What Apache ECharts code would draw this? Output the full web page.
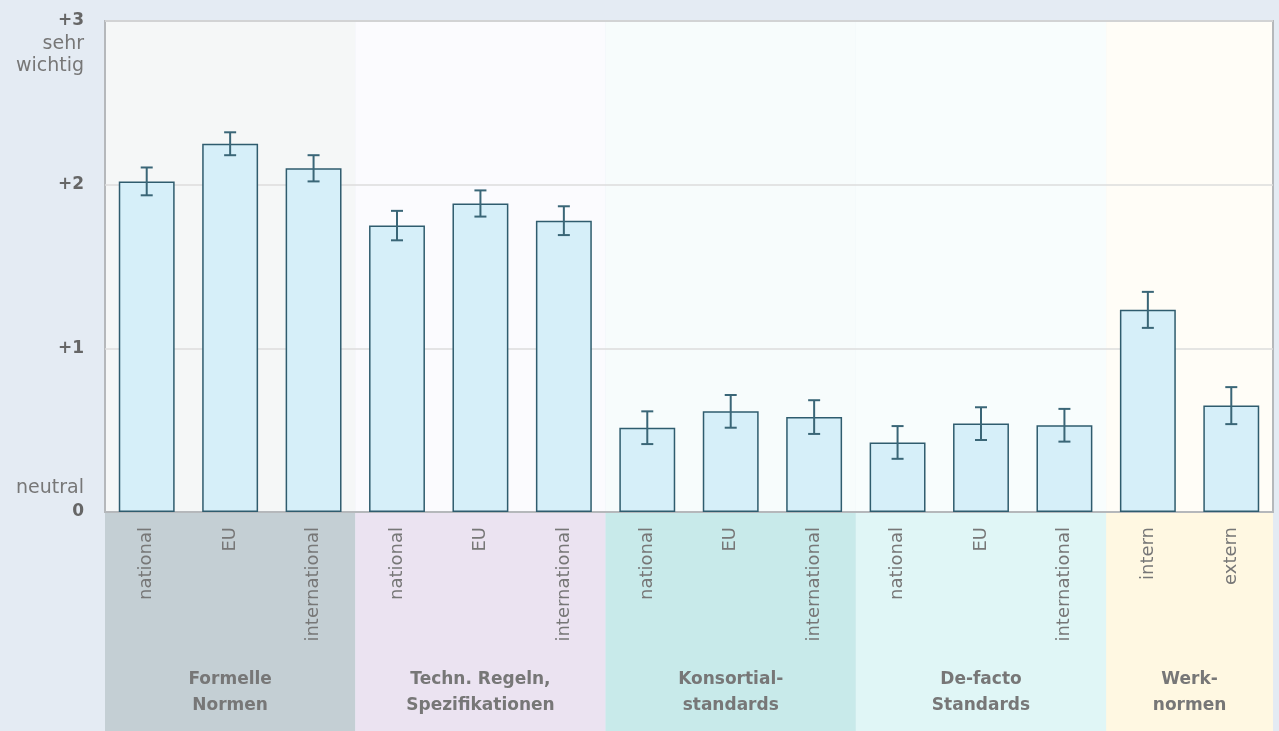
<!DOCTYPE html>
<html>
<head>
<meta charset="utf-8">
<script src="https://cdn.jsdelivr.net/npm/echarts@6/dist/echarts.min.js"></script>
<style>
  html, body { margin: 0; padding: 0; background: #e4ebf3; }
  #main { width: 1279px; height: 731px; }
</style>
</head>
<body>
<div id="main"></div>
<script>
// Kategorien (x-Achse) und Gruppen
const categories = ["national", "EU", "international", "national", "EU", "international",
  "national", "EU", "international", "national", "EU", "international", "intern", "extern"];
const groupNames = ["Formelle\nNormen", "Techn. Regeln,\nSpezifikationen", "Konsortial-\nstandards",
  "De-facto\nStandards", "Werk-\nnormen"];
const groupSizes = [3, 3, 3, 3, 2];
const groupPlotColors = ["#f5f7f7", "#fbfbfe", "#f7fcfc", "#f8fdfd", "#fffdf7"];
const groupBandColors = ["#c4cfd4", "#ebe3f1", "#c8eaea", "#e0f6f6", "#fff8e2"];

// Mittelwerte und Fehlerbalken
const means = [2.02, 2.25, 2.10, 1.75, 1.885, 1.78, 0.515, 0.615, 0.58, 0.425, 0.54, 0.53, 1.235, 0.65];
const errors = [0.085, 0.07, 0.08, 0.09, 0.08, 0.088, 0.10, 0.10, 0.103, 0.10, 0.10, 0.10, 0.11, 0.113];

// y-Achsenbeschriftung, von oben nach unten
const yTicks = {
  0: "{n|neutral}\n{b|0}\n{e| }",
  1: "{b|+1}",
  2: "{b|+2}",
  3: "{e| }\n{e| }\n{b|+3}\n{n|sehr}\n{n|wichtig}"
};

const font = "DejaVu Sans";

// Gruppen-Daten: [start, end, idx]
const groupData = [];
let start = 0;
groupSizes.forEach((n, i) => {
  groupData.push([start, start + n - 1, i]);
  start += n;
});

const errData = means.map((m, i) => [i, m - errors[i], m + errors[i]]);

const chart = echarts.init(document.getElementById("main"));
chart.setOption({
  backgroundColor: "#e4ebf3",
  animation: false,
  grid: {
    left: 105, right: 6, top: 21, bottom: 219,
    outerBoundsMode: "none",
    containLabel: false,
    show: true, borderColor: "#b5b8bb", borderWidth: 2, backgroundColor: "transparent"
  },
  xAxis: {
    type: "category",
    data: categories,
    axisLine: { lineStyle: { color: "#b5b8bb", width: 2 } },
    axisTick: { show: false },
    axisLabel: {
      interval: 0, rotate: 90, margin: 15,
      color: "#777", fontSize: 18, fontFamily: font
    }
  },
  yAxis: {
    type: "value",
    min: 0, max: 3, interval: 1,
    axisLine: { show: false },
    axisTick: { show: false },
    splitLine: { lineStyle: { color: "#dcdcdc", width: 1.5 } },
    axisLabel: {
      margin: 21,
      formatter: v => yTicks[v],
      rich: {
        b: { fontFamily: font, fontWeight: "bold", fontSize: 17, color: "#666", lineHeight: 25, align: "right" },
        n: { fontFamily: font, fontSize: 19, color: "#777", lineHeight: 22, align: "right" },
        e: { fontSize: 15, lineHeight: 22 }
      }
    }
  },
  series: [
    {
      type: "custom",
      z: -5,
      silent: true,
      data: groupData,
      renderItem: (params, api) => {
        const s = api.value(0), e = api.value(1), idx = api.value(2);
        const bw = api.size([1, 0])[0];
        const x0 = api.coord([s, 0])[0] - bw / 2;
        const x1 = api.coord([e, 0])[0] + bw / 2;
        const yTop = api.coord([s, 3])[1];
        const yZero = api.coord([s, 0])[1];
        const h = api.getHeight();
        return {
          type: "group",
          children: [
            { type: "rect", shape: { x: x0, y: yTop, width: x1 - x0, height: yZero - yTop },
              style: { fill: groupPlotColors[idx] } },
            { type: "rect", shape: { x: x0, y: yZero, width: x1 - x0, height: h - yZero },
              style: { fill: groupBandColors[idx] } },
            { type: "text", x: (x0 + x1) / 2, y: yZero + 181,
              style: { text: groupNames[idx], align: "center", verticalAlign: "middle",
                fill: "#777", fontFamily: font, fontWeight: "bold", fontSize: 17, lineHeight: 26 } }
          ]
        };
      }
    },
    {
      type: "bar",
      data: means,
      barWidth: "67%",
      itemStyle: { color: "#d6eff9", borderColor: "#2f5c6e", borderWidth: 1.5 }
    },
    {
      type: "custom",
      z: 5,
      data: errData,
      renderItem: (params, api) => {
        const i = api.value(0);
        const lo = api.coord([i, api.value(1)]);
        const hi = api.coord([i, api.value(2)]);
        const cap = 6;
        const st = { stroke: "#3a6677", lineWidth: 2 };
        return {
          type: "group",
          children: [
            { type: "line", shape: { x1: hi[0], y1: hi[1], x2: lo[0], y2: lo[1] }, style: st },
            { type: "line", shape: { x1: hi[0] - cap, y1: hi[1], x2: hi[0] + cap, y2: hi[1] }, style: st },
            { type: "line", shape: { x1: lo[0] - cap, y1: lo[1], x2: lo[0] + cap, y2: lo[1] }, style: st }
          ]
        };
      }
    }
  ]
});
</script>
</body>
</html>
